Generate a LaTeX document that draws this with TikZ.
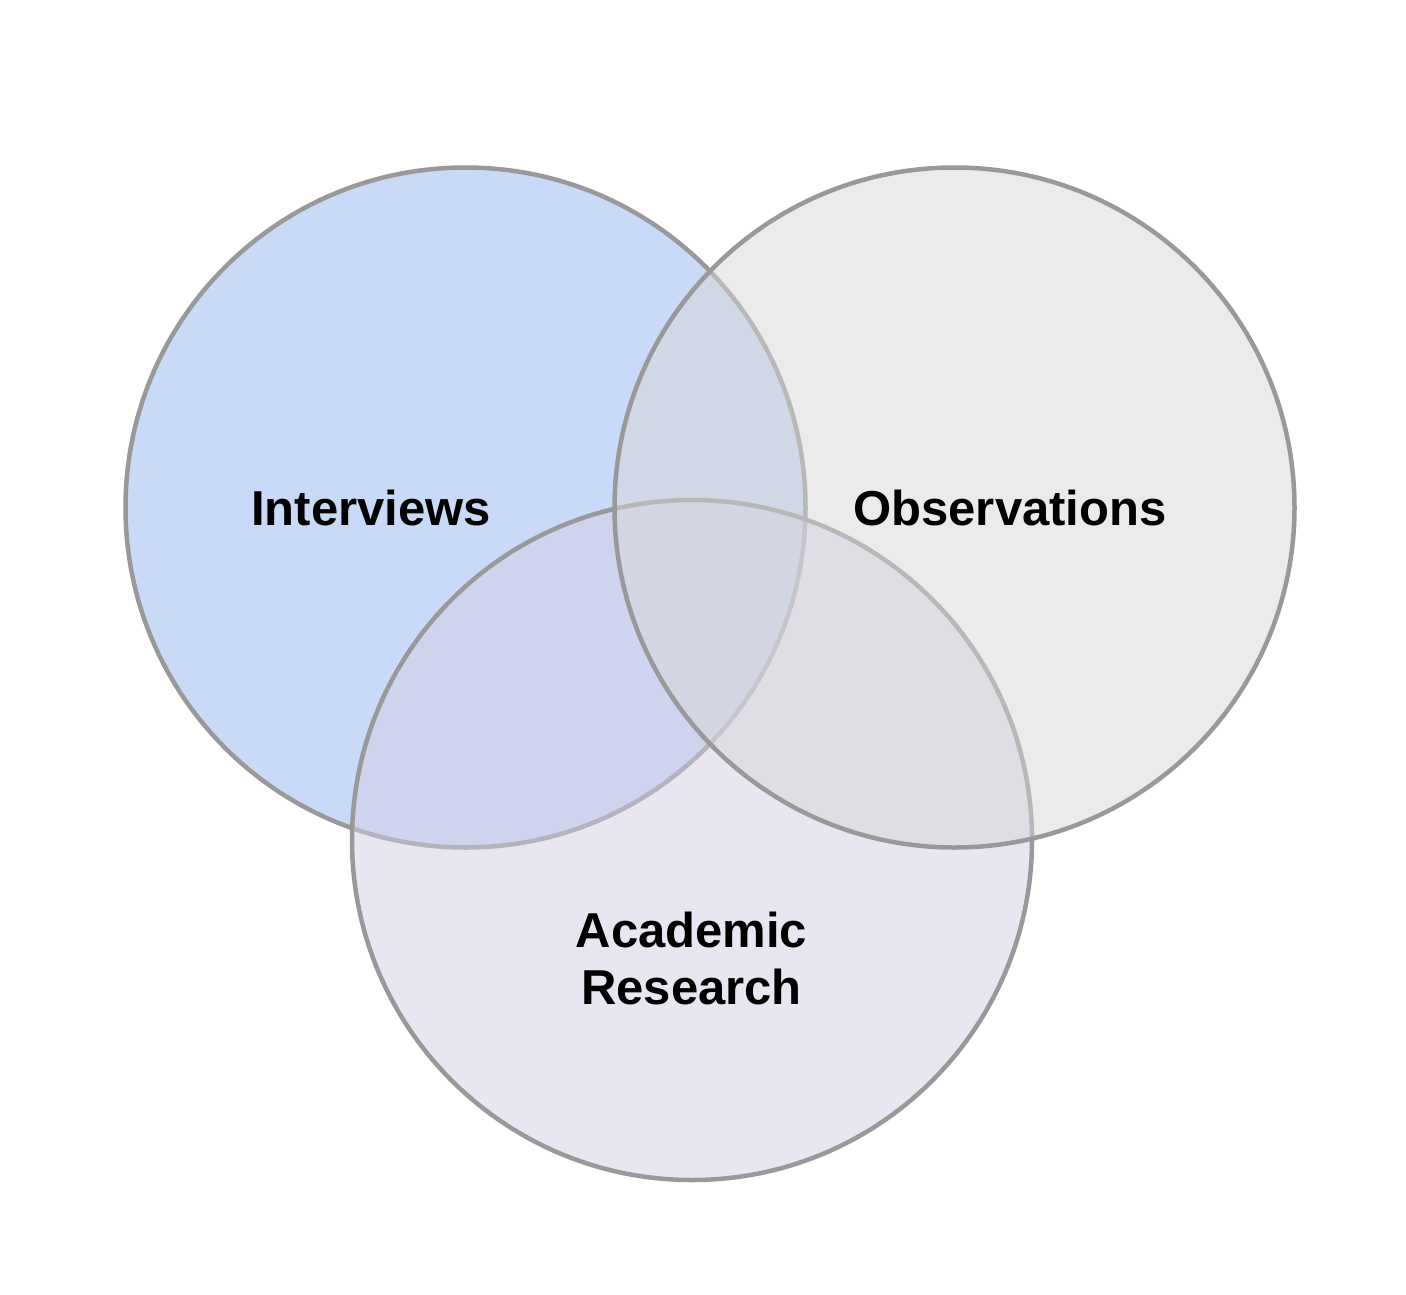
\documentclass[tikz,border=0pt]{standalone}
\usepackage{fontspec}
\setmainfont{Liberation Sans}
\definecolor{ringline}{HTML}{999999}
\definecolor{bluefill}{HTML}{C9DAF8}
\definecolor{grayfill}{HTML}{D7D7D7}
\definecolor{purplefill}{HTML}{D3CDE5}
\begin{document}
\begin{tikzpicture}[x=1pt,y=-1pt,
  ring/.style={circle, draw=ringline, line width=4.5pt, minimum size=680pt, inner sep=0pt, outer sep=0pt},
  lbl/.style={font=\fontsize{49}{57}\selectfont\bfseries, align=center, inner sep=0pt, text=black}]
\useasboundingbox (0,0) rectangle (1406,1294);
\node[ring, fill=bluefill] (interviews) at (465.5,507.5) {};
\node[ring, fill=purplefill, fill opacity=0.5] (academic) at (692,840) {};
\node[ring, fill=grayfill, fill opacity=0.5] (observations) at (954.5,507.5) {};
\node[lbl] (tInterviews) at (371,508) {Interviews};
\node[lbl] (tObservations) at (1010,508) {Observations};
\node[lbl] (tAcademic) at (691.5,958.5) {Academic\\Research};
\end{tikzpicture}
\end{document}
